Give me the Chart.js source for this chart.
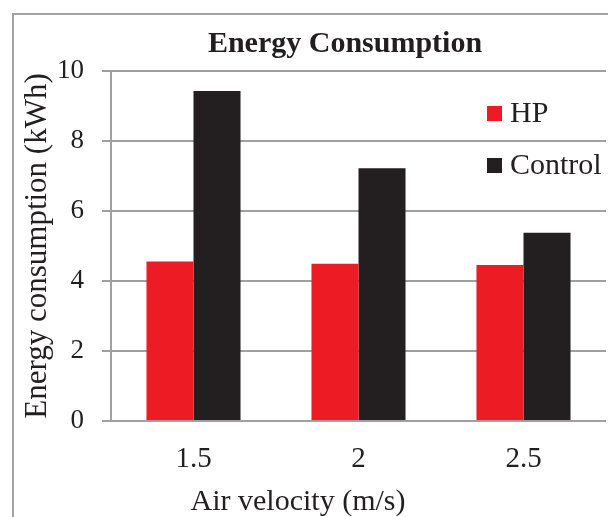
<!DOCTYPE html>
<html>
<head>
<meta charset="utf-8">
<script src="https://cdn.jsdelivr.net/npm/chart.js@4.4.1/dist/chart.umd.min.js"></script>
<style>
  html, body { margin: 0; padding: 0; overflow: hidden; background: #fff; }
  #frame {
    position: absolute; left: 12px; top: 13px;
    width: 700px; height: 600px;
    border-left: 2px solid #a3a3a3; border-top: 2px solid #a3a3a3;
  }
  #graf { position: absolute; left: 0; top: 0; }
</style>
</head>
<body>
<div id="frame"><canvas id="graf" width="594" height="502"></canvas></div>
<script>
// dados
var velocidades = ['1.5', '2', '2.5'];
var consumoHP = [4.56, 4.49, 4.46];
var consumoControle = [9.43, 7.22, 5.38];
var rotulosSeries = ['HP', 'Control'];

var corTexto = '#231f20';
var corGrade = '#a0a0a4';
var fonteSerif = "'Liberation Serif', 'Times New Roman', serif";

// titulo, titulo do eixo x e legenda dentro da area do grafico
var textosExtras = {
    id: 'textosExtras',
    afterDraw: function (chart) {
        var ctx = chart.ctx;
        var area = chart.chartArea;
        ctx.save();
        ctx.fillStyle = corTexto;
        ctx.textAlign = 'center';
        ctx.textBaseline = 'middle';

        ctx.font = 'bold 30px ' + fonteSerif;
        ctx.fillText('Energy Consumption', area.left + 234, 29);

        ctx.font = '30px ' + fonteSerif;
        ctx.fillText('Air velocity (m/s)', area.left + 187, 487);

        // legenda
        ctx.textAlign = 'left';
        ctx.font = '30px ' + fonteSerif;
        chart.data.datasets.forEach(function (ds, i) {
            var y = 98 + i * 52;
            ctx.fillStyle = ds.backgroundColor;
            ctx.fillRect(473, y - 7, 15, 15);
            ctx.fillStyle = corTexto;
            ctx.fillText(ds.label, 496, y + 1);
        });
        ctx.restore();
    }
};

var config = {
    type: 'bar',
    data: {
        labels: velocidades,
        datasets: [
            {
                label: rotulosSeries[0],
                data: consumoHP,
                backgroundColor: '#ed1c24',
                borderWidth: 0
            },
            {
                label: rotulosSeries[1],
                data: consumoControle,
                backgroundColor: '#231f20',
                borderWidth: 0
            }
        ]
    },
    options: {
        responsive: false,
        animation: false,
        categoryPercentage: 0.57,
        barPercentage: 1.0,
        layout: {
            padding: { left: 0, right: 2, top: 56, bottom: 0 }
        },
        plugins: {
            legend: { display: false },
            title: { display: false },
            tooltip: { enabled: false }
        },
        scales: {
            x: {
                grid: { display: false, drawTicks: false },
                border: { display: false },
                ticks: {
                    color: corTexto,
                    padding: 21,
                    font: { family: fonteSerif, size: 29 }
                },
                afterFit: function (scale) { scale.height = 96; }
            },
            y: {
                min: 0,
                max: 10,
                ticks: {
                    stepSize: 2,
                    color: corTexto,
                    padding: 18,
                    font: { family: fonteSerif, size: 27 }
                },
                grid: {
                    color: corGrade,
                    lineWidth: 2,
                    tickLength: 9
                },
                border: { display: true, color: corGrade, width: 2 },
                title: {
                    display: true,
                    text: 'Energy consumption (kWh)',
                    color: corTexto,
                    padding: { top: 5, bottom: 0 },
                    font: { family: fonteSerif, size: 31 }
                },
                afterFit: function (scale) { scale.width = 97; }
            }
        }
    },
    plugins: [textosExtras]
};

var ctx = document.getElementById('graf').getContext('2d');
window.graficoBarras = new Chart(ctx, config);
</script>
</body>
</html>
